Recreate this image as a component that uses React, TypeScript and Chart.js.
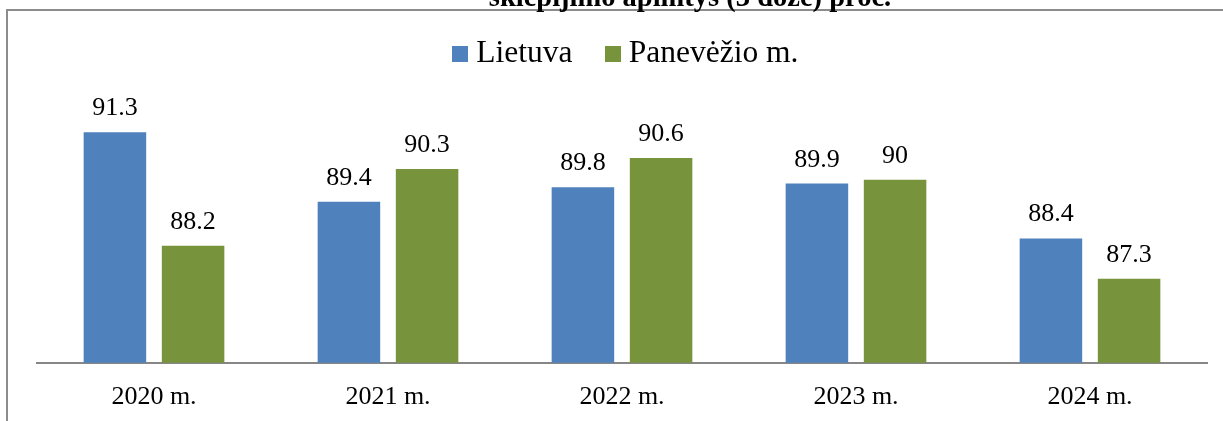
import React, { useEffect, useRef } from "react";
import { Chart, registerables } from "chart.js";

Chart.register(...registerables);

const categories = ["2020 m.", "2021 m.", "2022 m.", "2023 m.", "2024 m."];
const lietuva = [91.3, 89.4, 89.8, 89.9, 88.4];
const panevezys = [88.2, 90.3, 90.6, 90, 87.3];
const seriesNames = ["Lietuva", "Panevėžio m."];
const seriesColors = ["#4F81BD", "#77933C"];
const titleText = "skiepijimo apimtys (3 dozė) proc.";

const SERIF = "'Times New Roman', 'Liberation Serif', serif";
const CANVAS_W = 1223;
const CANVAS_H = 451;
const OFFSET_Y = 20;

function makeSwatch(color: string) {
  const c = document.createElement("canvas");
  c.width = 16;
  c.height = 16;
  const ctx = c.getContext("2d")!;
  ctx.fillStyle = color;
  ctx.fillRect(0, 0, 16, 16);
  return c;
}

const framePlugin = {
  id: "frameAndTitle",
  beforeLayout(chart: any) {
    const lg = chart.legend;
    if (lg && !lg._extraPatched) {
      const orig = lg.fit;
      lg.fit = function () {
        orig.call(this);
        this.height += 27.3;
      };
      lg._extraPatched = true;
    }
  },
  afterLayout(chart: any) {
    const lg = chart.legend;
    if (lg) {
      lg.left += 7;
      lg.right += 7;
    }
  },
  beforeDraw(chart: any) {
    const ctx = chart.ctx;
    ctx.save();
    ctx.strokeStyle = "#8c8c8c";
    ctx.lineWidth = 2;
    ctx.beginPath();
    ctx.moveTo(7, CANVAS_H);
    ctx.lineTo(7, OFFSET_Y + 10);
    ctx.lineTo(CANVAS_W, OFFSET_Y + 10);
    ctx.stroke();
    ctx.fillStyle = "#000";
    ctx.font = `bold 28.5px ${SERIF}`;
    ctx.textAlign = "center";
    ctx.textBaseline = "alphabetic";
    ctx.fillText(titleText, 690, OFFSET_Y + 6);
    ctx.restore();
  },
};

const labelPlugin = {
  id: "barValueLabels",
  afterDatasetsDraw(chart: any) {
    const ctx = chart.ctx;
    ctx.save();
    ctx.fillStyle = "#000";
    ctx.font = `26px ${SERIF}`;
    ctx.textAlign = "center";
    ctx.textBaseline = "alphabetic";
    chart.data.datasets.forEach((ds: any, di: number) => {
      const meta = chart.getDatasetMeta(di);
      meta.data.forEach((el: any, i: number) => {
        ctx.fillText(String(ds.data[i]), el.x, el.y - 17);
      });
    });
    ctx.restore();
  },
};

export default function App() {
  const ref = useRef<HTMLCanvasElement>(null);
  useEffect(() => {
    if (!ref.current) return;
    const swatches = seriesColors.map(makeSwatch);
    const chart = new Chart(ref.current, {
      type: "bar",
      data: {
        labels: categories,
        datasets: [
          {
            label: seriesNames[0],
            data: lietuva,
            backgroundColor: seriesColors[0],
            barPercentage: 0.8,
            categoryPercentage: 0.668,
          },
          {
            label: seriesNames[1],
            data: panevezys,
            backgroundColor: seriesColors[1],
            barPercentage: 0.8,
            categoryPercentage: 0.668,
          },
        ],
      },
      options: {
        animation: false,
        responsive: false,
        maintainAspectRatio: false,
        layout: { padding: { top: 18.4, left: 37, right: 16, bottom: 0 } },
        plugins: {
          title: { display: false },
          tooltip: { enabled: false },
          legend: {
            display: true,
            position: "top",
            labels: {
              usePointStyle: true,
              boxWidth: 1,
              boxHeight: 16,
              padding: 39.5,
              color: "#000",
              font: { family: SERIF, size: 31.5 },
              generateLabels(chart: any) {
                const items = Chart.defaults.plugins.legend.labels.generateLabels(chart);
                items.forEach((it: any, i: number) => {
                  it.pointStyle = swatches[i];
                });
                return items;
              },
            },
          },
        },
        scales: {
          x: {
            grid: { display: false, drawTicks: false },
            border: { display: true, color: "#868686", width: 2 },
            ticks: {
              color: "#000",
              padding: 18.5,
              font: { family: SERIF, size: 26 },
            },
          },
          y: {
            display: false,
            min: 85,
            max: 92,
          },
        },
      },
      plugins: [framePlugin, labelPlugin],
    });
    return () => chart.destroy();
  }, []);
  return (
    <div
      style={{
        position: "fixed",
        left: 0,
        top: 0,
        width: 1223,
        height: 421,
        overflow: "hidden",
        background: "#fff",
      }}
    >
      <canvas
        ref={ref}
        width={CANVAS_W}
        height={CANVAS_H}
        style={{
          position: "absolute",
          left: 0,
          top: -OFFSET_Y,
          width: CANVAS_W,
          height: CANVAS_H,
        }}
      />
    </div>
  );
}
